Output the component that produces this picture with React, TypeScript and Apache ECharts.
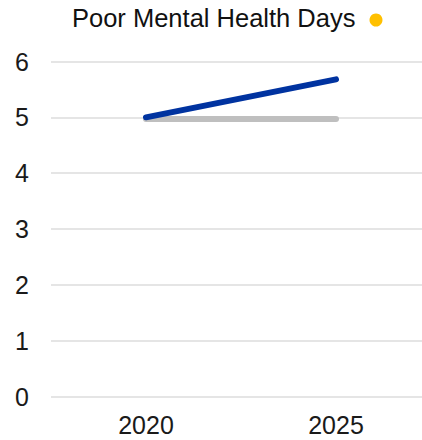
import React, { useEffect, useRef } from "react";
import * as echarts from "echarts";

const categories = ["2020", "2025"];
const blueSeries = [5.0, 5.68];
const greySeries = [4.97, 4.97];
const titleText = "Poor Mental Health Days";

export default function App() {
  const ref = useRef<HTMLDivElement>(null);
  useEffect(() => {
    if (!ref.current) return;
    const chart = echarts.init(ref.current, null, { renderer: "svg" });
    const font = "'Liberation Sans', Arial, sans-serif";
    chart.setOption({
      animation: false,
      backgroundColor: "#ffffff",
      textStyle: { fontFamily: font },
      grid: { left: 51, width: 380, top: 61.5, bottom: 43.5, containLabel: false },
      xAxis: {
        type: "category",
        data: categories,
        boundaryGap: true,
        axisLine: { show: false },
        axisTick: { show: false },
        axisLabel: { color: "#1a1a1a", fontSize: 25, margin: 16, fontFamily: font },
        splitLine: { show: false },
      },
      yAxis: {
        type: "value",
        min: 0,
        max: 6,
        interval: 1,
        axisLine: { show: false },
        axisTick: { show: false },
        axisLabel: { color: "#1a1a1a", fontSize: 25, margin: 22, align: "right", fontFamily: font },
        splitLine: { lineStyle: { color: "#dcdcdc", width: 1.5 } },
      },
      graphic: [
        {
          type: "text",
          left: 72,
          top: 5,
          style: { text: titleText, fontSize: 25.5, fill: "#111", fontFamily: font },
        },
        {
          type: "circle",
          shape: { cx: 376, cy: 20, r: 6.5 },
          style: { fill: "#ffc000" },
        },
      ],
      series: [
        {
          type: "line",
          data: greySeries,
          symbol: "none",
          lineStyle: { color: "#bfbfbf", width: 6, cap: "round" },
          z: 2,
        },
        {
          type: "line",
          data: blueSeries,
          symbol: "none",
          lineStyle: { color: "#0033a0", width: 6, cap: "round" },
          z: 3,
        },
      ],
    });
    return () => chart.dispose();
  }, []);
  return (
    <div
      style={{
        position: "absolute",
        left: 0,
        top: 0,
        width: 422,
        height: 440,
        overflow: "hidden",
        background: "#ffffff",
      }}
    >
      <div ref={ref} style={{ width: 432, height: 440 }} />
    </div>
  );
}
